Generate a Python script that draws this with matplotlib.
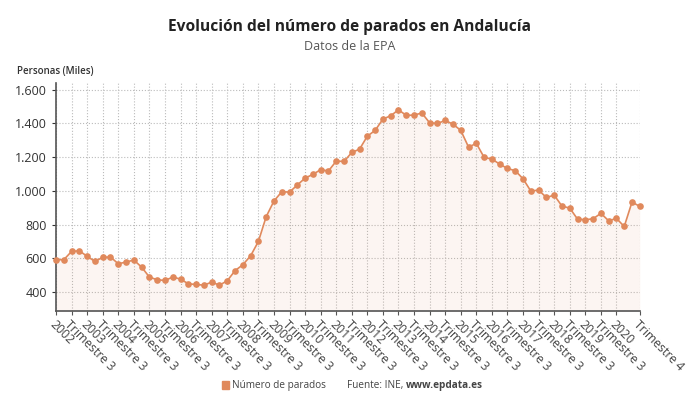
import numpy as np
import matplotlib.pyplot as plt
from matplotlib.ticker import FuncFormatter

plt.rcParams['font.family'] = ['Open Sans', 'DejaVu Sans']

# Parados en Andalucía (miles de personas), 2002 T1 - 2020 T4
years = list(range(2002, 2021))
parados = [592, 592, 641, 645, 612, 582, 606, 608,
           568, 578, 590, 548, 489, 473, 469, 489,
           477, 449, 445, 441, 459, 441, 467, 527,
           562, 615, 700, 847, 940, 995, 993, 1035,
           1076, 1098, 1126, 1118, 1177, 1175, 1228, 1248,
           1325, 1359, 1426, 1446, 1481, 1448, 1450, 1462,
           1404, 1400, 1418, 1396, 1359, 1260, 1282, 1199,
           1189, 1159, 1133, 1120, 1072, 999, 1005, 961,
           975, 910, 898, 833, 829, 835, 867, 823,
           837, 789, 934, 908]

x = np.arange(len(parados))
last = len(parados) - 1
tick_pos = list(range(0, last - 2, 2)) + [last]
tick_lab = []
for i in tick_pos:
    if i == last:
        tick_lab.append('Trimestre 4')
    elif i % 4 == 0:
        tick_lab.append(str(years[i // 4]))
    else:
        tick_lab.append('Trimestre 3')

color = '#e0895c'

fig = plt.figure(figsize=(7, 4.11), dpi=100)
ax = fig.add_axes([0.08, 0.243, 0.834, 0.555])

ax.fill_between(x, parados, 0, color=color, alpha=0.08, lw=0)
ax.plot(x, parados, color=color, lw=1.2, marker='o', ms=4.8,
        markeredgewidth=0, clip_on=False, zorder=3)

ax.set_xlim(0, last)
ax.set_ylim(287, 1640)
ax.set_yticks(range(400, 1601, 200))
ax.yaxis.set_major_formatter(FuncFormatter(lambda v, p: f'{int(v):,}'.replace(',', '.')))
ax.set_xticks(tick_pos)
ax.set_xticklabels(tick_lab, rotation=-45, ha='left', va='top',
                   rotation_mode='anchor', fontsize=8.8, color='#444444')
ax.tick_params(axis='y', labelsize=9, colors='#333333', length=3)
ax.tick_params(axis='x', length=3, color='#555555', pad=2)

ax.grid(True, color='#bbbbbb', linestyle=':', linewidth=0.8)
ax.set_axisbelow(True)
for s in ['top', 'right']:
    ax.spines[s].set_visible(False)
for s in ['left', 'bottom']:
    ax.spines[s].set_color('#555555')
    ax.spines[s].set_linewidth(1.2)

fig.text(0.5, 0.934, 'Evolución del número de parados en Andalucía',
         ha='center', va='center', fontsize=11.2, fontweight='bold', color='#222222')
fig.text(0.5, 0.886, 'Datos de la EPA', ha='center', va='center', fontsize=9, color='#555555')
fig.text(0.024, 0.825, 'Personas (Miles)', va='center', fontsize=7, fontweight='semibold', color='#333333')

# leyenda y fuente
fig.patches.append(plt.Rectangle((0.317, 0.054), 0.010, 0.018, color=color,
                                 transform=fig.transFigure, figure=fig))
fig.text(0.332, 0.063, 'Número de parados', va='center', fontsize=7.2, color='#444444')
t1 = fig.text(0.496, 0.063, 'Fuente: INE, ', va='center', fontsize=7.2, color='#444444')
r = fig.canvas.get_renderer()
bb = t1.get_window_extent(r).transformed(fig.transFigure.inverted())
fig.text(bb.x1, 0.063, 'www.epdata.es', va='center', fontsize=7.2, fontweight='bold', color='#444444')

fig.savefig('out.png', dpi=100)
